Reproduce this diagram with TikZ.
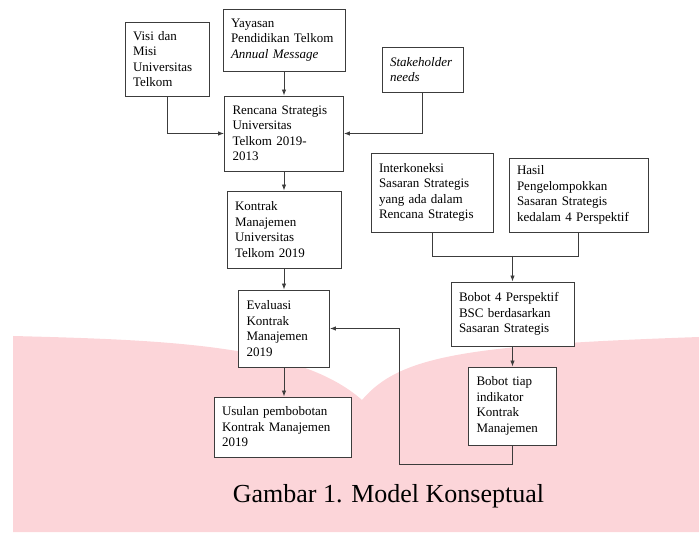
\documentclass[tikz,border=0pt]{standalone}
\usepackage{fontspec}
\setmainfont{Liberation Serif}
\usetikzlibrary{arrows.meta}
\definecolor{pinkbg}{RGB}{252,213,217}
\definecolor{linegray}{RGB}{60,60,60}
\begin{document}
\begin{tikzpicture}[x=1pt, y=-1pt]
		\tikzset{box/.style 2 args = {draw=linegray, line width=.9pt, fill=white, align=left,
			text width=#1, minimum height=#2, inner xsep=8pt, inner ysep=2pt,
			font=\fontsize{13}{15.5}\selectfont}}
		\tikzset{edge/.style = {->,> = {Latex[length=6pt, width=4.5pt]}, draw=linegray, line width=.9pt}}
		\tikzset{link/.style = {draw=linegray, line width=.9pt}}
		\useasboundingbox (0,0) rectangle (699,534);
		% Draw background watermark
		\fill[pinkbg] (13,336) .. controls (170,340) and (300,345) .. (362,400)
			.. controls (400,355) and (470,345) .. (699,337) -- (699,532) -- (13,532) -- cycle;
		% Draw boxes
		\node[box={68pt}{74pt}] (visi) at (167,59) {Visi dan\\Misi\\Universitas\\Telkom};
		\node[box={106pt}{62pt}] (yayasan) at (284,40) {Yayasan\\Pendidikan Telkom\\\textit{Annual Message}};
		\node[box={103pt}{75pt}] (renstra) at (284,133.5) {Rencana Strategis\\Universitas\\Telkom 2019-\\2013};
		\node[box={65pt}{45pt}] (stake) at (422.5,69.5) {\textit{Stakeholder}\\\textit{needs}};
		\node[box={98pt}{77pt}] (kontrak) at (284,229.5) {Kontrak\\Manajemen\\Universitas\\Telkom 2019};
		\node[box={106pt}{79pt}] (interkon) at (432,192.5) {Interkoneksi\\Sasaran Strategis\\yang ada dalam\\Rencana Strategis};
		\node[box={123pt}{74pt}] (hasil) at (578.5,195) {Hasil\\Pengelompokkan\\Sasaran Strategis\\kedalam 4 Perspektif};
		\node[box={107pt}{64pt}] (bobotp) at (512.5,314) {Bobot 4 Perspektif\\BSC berdasarkan\\Sasaran Strategis};
		\node[box={72pt}{78pt}] (bobotind) at (512.5,406) {Bobot tiap\\indikator\\Kontrak\\Manajemen};
		\node[box={75pt}{77pt}] (evaluasi) at (284,328.5) {Evaluasi\\Kontrak\\Manajemen\\2019};
		\node[box={121pt}{60pt}] (usulan) at (282.5,427) {Usulan pembobotan\\Kontrak Manajemen\\2019};
		\coordinate (merge) at (512.5,256);
		\coordinate (loop) at (399,464);
		% Draw connectors
		\draw[edge] (yayasan) -- (renstra);
		\draw[edge] (visi) |- (renstra);
		\draw[edge] (stake) |- (renstra);
		\draw[edge] (renstra) -- (kontrak);
		\draw[edge] (kontrak) -- (evaluasi);
		\draw[edge] (evaluasi) -- (evaluasi |- usulan.north);
		\draw[link] (interkon) |- (merge);
		\draw[link] (hasil) |- (merge);
		\draw[edge] (merge) -- (bobotp);
		\draw[edge] (bobotp) -- (bobotind);
		\draw[edge] (bobotind) |- (loop) |- (evaluasi);
		% Caption
		\node[anchor=base, font=\fontsize{26}{30}\selectfont] (caption) at (388.5,502) {Gambar 1. Model Konseptual};
	\end{tikzpicture}
\end{document}
